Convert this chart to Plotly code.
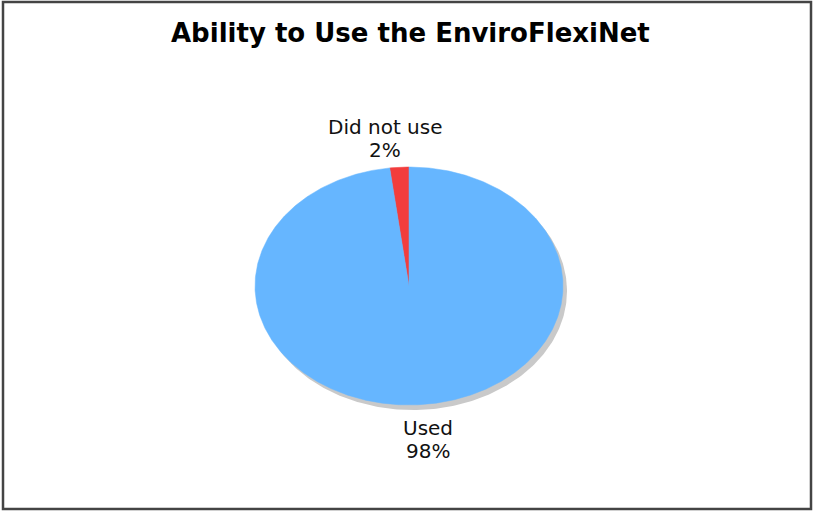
import numpy as np
import plotly.graph_objects as go

# ---- data ----
title_text = "Ability to Use the EnviroFlexiNet"
labels = ["Did not use", "Used"]
values = [2, 98]
colors = ["#F23D3D", "#66B6FF"]

# ---- geometry (pixel-like axes) ----
W, H = 816, 511
cx, cy = 409, 286
a, b = 154, 119
line_gap = 23

def ell_pts(t0, t1, n=200):
    th = np.radians(np.linspace(t0, t1, n))
    return cx + a * np.sin(th), cy - b * np.cos(th)

fig = go.Figure()

# shadow
sx, sy = ell_pts(0, 360, 400)
fig.add_trace(go.Scatter(x=sx + 4, y=sy + 5, mode="lines", fill="toself",
                         fillcolor="#C9C9C9", line=dict(width=0),
                         hoverinfo="skip", showlegend=False))

total = sum(values)
# "Did not use" goes counter-clockwise from 12 o'clock, "Used" clockwise
angles = []
start = 360.0
for v in values:
    sweep = 360.0 * v / total
    angles.append((start - sweep, start))
    start -= sweep

for (t0, t1), col in zip(angles, colors):
    px, py = ell_pts(t0, t1, max(int((t1 - t0) * 2), 10))
    xs = np.concatenate([[cx], px, [cx]])
    ys = np.concatenate([[cy], py, [cy]])
    fig.add_trace(go.Scatter(x=xs, y=ys, mode="lines", fill="toself",
                             fillcolor=col, line=dict(width=0.5, color=col),
                             hoverinfo="skip", showlegend=False))

# labels (two lines each)
lab_font = dict(family="DejaVu Sans", size=20, color="#111111")
for (t0, t1), lab, v in zip(angles, labels, values):
    mid = np.radians((t0 + t1) / 2)
    if np.cos(mid) > 0:
        lx = cx + 380 * np.sin(mid)
        y_pct = cy - b - 17
        y_name = y_pct - line_gap
    else:
        lx = cx + 300 * np.sin(mid)
        y_name = cy + b + 23
        y_pct = y_name + line_gap
    fig.add_annotation(x=lx, y=y_name, xref="x", yref="y", text=lab,
                       showarrow=False, xanchor="center", yanchor="middle",
                       font=lab_font)
    fig.add_annotation(x=lx, y=y_pct, xref="x", yref="y", text=f"{v}%",
                       showarrow=False, xanchor="center", yanchor="middle",
                       font=lab_font)

# title
fig.add_annotation(x=410, y=33, xref="x", yref="y", text=f"<b>{title_text}</b>",
                   showarrow=False, xanchor="center", yanchor="middle",
                   font=dict(family="DejaVu Sans", size=26, color="#000000"))

# border
fig.add_shape(type="rect", xref="x", yref="y", x0=3, y0=2, x1=811, y1=509,
              line=dict(color="#444444", width=2.5))

fig.update_layout(
    width=W, height=H, margin=dict(l=0, r=0, t=0, b=0),
    paper_bgcolor="white", plot_bgcolor="white",
    xaxis=dict(range=[0, W], visible=False, fixedrange=True),
    yaxis=dict(range=[H, 0], visible=False, fixedrange=True),
    showlegend=False,
)

fig.write_html("out.html")
